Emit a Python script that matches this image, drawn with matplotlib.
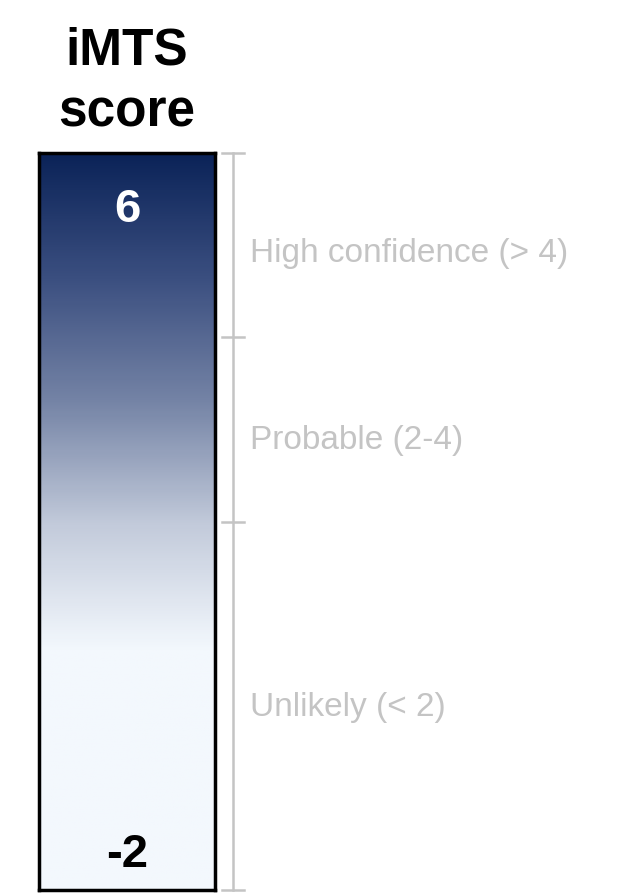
import numpy as np
import matplotlib.pyplot as plt
from matplotlib.colors import LinearSegmentedColormap

# iMTS score scale
score_min = -2
score_max = 6
fade_end = 0.6          # score below which the bar stays pale
boundaries = [2, 4]     # category cut-offs
category_labels = ["Unlikely (< 2)", "Probable (2-4)", "High confidence (> 4)"]
label_scores = [-0.02, 2.88, 4.91]

plt.rcParams['font.family'] = ['Liberation Sans', 'DejaVu Sans']

W, H = 631, 893
fig = plt.figure(figsize=(W / 100, H / 100), dpi=100)

cmap = LinearSegmentedColormap.from_list(
    'imts', ['#f3f8fd', '#c3cbdb', '#7584a6', '#3b4f80', '#0b2358'])

# colour bar
ax = fig.add_axes([39 / W, 3 / H, 176 / W, 737 / H])
scores = np.linspace(score_min, score_max, 400)
vals = np.clip((scores - fade_end) / (score_max - fade_end), 0, 1)
ax.imshow(vals[:, None], aspect='auto', cmap=cmap, origin='lower',
          extent=[0, 1, score_min, score_max], vmin=0, vmax=1)
ax.set_xlim(0, 1)
ax.set_ylim(score_min, score_max)
ax.set_xticks([])
ax.set_yticks([])
for s in ax.spines.values():
    s.set_linewidth(2.5)
    s.set_color('black')

ax.text(0.5, score_max - 0.62, str(score_max), ha='center', va='center',
        color='white', fontsize=34, fontweight='bold')
ax.text(0.5, score_min + 0.38, str(score_min), ha='center', va='center',
        color='black', fontsize=34, fontweight='bold')

# bracket with category labels
bx = fig.add_axes([215 / W, 3 / H, (W - 215) / W, 737 / H])
bx.set_xlim(215, W)
bx.set_ylim(score_min, score_max)
bx.axis('off')
grey = '#c4c4c4'
bx.plot([233, 233], [score_min, score_max], color=grey, lw=1.8, clip_on=False)
for t in [score_min, *boundaries, score_max]:
    bx.plot([222, 244], [t, t], color=grey, lw=1.8, clip_on=False)
for lab, y in zip(category_labels, label_scores):
    bx.text(250, y, lab, ha='left', va='center', color='#c4c4c4', fontsize=24)

fig.text(127 / W, 1 - 82 / H, "iMTS\nscore", ha='center', va='center',
         fontsize=37, fontweight='bold', linespacing=1.36)

fig.savefig('out.png', dpi=100)
